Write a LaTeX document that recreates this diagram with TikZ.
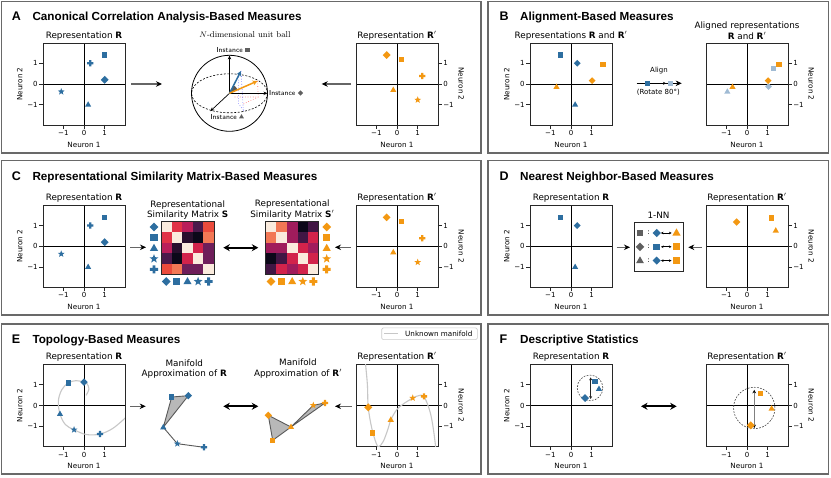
\documentclass[tikz,border=0pt]{standalone}
\usepackage{fontspec}
\newfontfamily\dv{DejaVu Sans}
\newfontfamily\hb{Liberation Sans}
\usetikzlibrary{arrows.meta}
\definecolor{cB}{RGB}{45,110,160}
\definecolor{cO}{RGB}{243,152,18}
\definecolor{cL}{RGB}{160,187,212}
\definecolor{cG}{RGB}{95,95,95}
\definecolor{axc}{RGB}{40,40,40}
\definecolor{pbc}{RGB}{105,105,105}
\definecolor{mA}{RGB}{250,235,221}
\definecolor{mR}{RGB}{225,50,70}
\definecolor{mC}{RGB}{185,30,90}
\definecolor{mP}{RGB}{75,25,75}
\definecolor{mE}{RGB}{235,75,60}
\definecolor{mV}{RGB}{40,15,45}
\definecolor{mK}{RGB}{12,8,25}
\definecolor{mS}{RGB}{242,120,85}
\definecolor{mD}{RGB}{210,35,75}
\definecolor{mU}{RGB}{110,30,90}
\definecolor{mM}{RGB}{160,28,92}
\definecolor{mQ}{RGB}{65,22,68}
\newcommand\MKsq{\fill (-2.7pt,-2.7pt) rectangle (2.7pt,2.7pt);}
\newcommand\MKdia{\fill (0pt,3.4pt) -- (3.4pt,0pt) -- (0pt,-3.4pt) -- (-3.4pt,0pt) -- cycle;}
\newcommand\MKtri{\fill (0pt,3.4pt) -- (3.1pt,-2pt) -- (-3.1pt,-2pt) -- cycle;}
\newcommand\MKstar{\fill (90:3.6pt) -- (126:1.5pt) -- (162:3.6pt) -- (198:1.5pt) -- (234:3.6pt) -- (270:1.5pt) -- (306:3.6pt) -- (342:1.5pt) -- (18:3.6pt) -- (54:1.5pt) -- cycle;}
\newcommand\MKplus{\fill (-1.15pt,-3.1pt) rectangle (1.15pt,3.1pt) (-3.1pt,-1.15pt) rectangle (3.1pt,1.15pt);}
\newcommand\Rp{\textbf{R}$'$}
\tikzset{
 pics/mk/.style={code={\csname MK#1\endcsname}},
 dat/.style={x=20.7pt,y=20.7pt},
 ticklab/.style={font=\dv\fontsize{7}{8}\selectfont, inner sep=0pt},
 axlab/.style={font=\dv\fontsize{7.2}{8}\selectfont, inner sep=0pt},
 subttl/.style={font=\dv\fontsize{8.8}{10}\selectfont, inner sep=0pt, align=center},
 inst/.style={font=\sffamily\fontsize{7.2}{8}\selectfont, inner sep=0pt},
 panelttl/.style={font=\hb\bfseries\fontsize{11.7}{13}\selectfont, inner sep=0pt, anchor=base west},
 panellet/.style={font=\hb\bfseries\fontsize{12.5}{14}\selectfont, inner sep=0pt, anchor=base west},
 panelbox/.style={draw=pbc, line width=1.1pt},
 arr/.style={draw=black!60, line width=1.1pt, -{Stealth[length=6pt,width=5.5pt,color=black]}},
 darr/.style={draw=black, line width=2pt, {Stealth[length=6.5pt,width=7pt]}-{Stealth[length=6.5pt,width=7pt]}},
 tarr/.style={draw=black, line width=0.6pt, {Stealth[length=2.5pt,width=2.6pt]}-{Stealth[length=2.5pt,width=2.6pt]}},
 sarr/.style={draw=black, line width=0.6pt, -{Stealth[length=3pt,width=3pt]}},
 alarr/.style={draw=black, line width=0.8pt, -{Stealth[length=6pt,width=5.5pt]}},
 sphax/.style={draw=black, line width=0.7pt, -{Stealth[length=4pt,width=3.4pt]}},
 mfc/.style={draw=black!22, line width=1.1pt},
 mat/.style={draw=axc, line width=0.7pt, minimum size=53pt, inner sep=0pt},
 edgegr/.style={draw=black!65, line width=0.9pt},
 fillgr/.style={fill=black!28},
 dcirc/.style={draw=black!70, line width=0.6pt, dash pattern=on 1.8pt off 1.3pt},
 vdarr/.style={draw=black!85, line width=0.8pt, {Stealth[length=3pt,width=3pt]}-{Stealth[length=3pt,width=3pt]}},
 vdarrg/.style={draw=black!50, line width=1.3pt, {Stealth[length=3.5pt,width=3.5pt,color=black]}-{Stealth[length=3.5pt,width=3.5pt,color=black]}},
}
\newcommand\mplot[7]{%
 \begin{scope}[shift={(#2,#3)},dat]
  \draw[black,line width=0.9pt] (-1.98,0) -- (1.98,0) (0,-1.98) -- (0,1.98);
  \node[draw=axc,line width=0.8pt,minimum size=82pt,inner sep=0pt] (#1) at (0,0) {};
  \foreach \t/\s in {-1/−1,0/0,1/1}{%
   \draw[axc,line width=0.6pt] (\t,-1.98) -- (\t,-2.15);
   \draw[axc,line width=0.6pt] (#4*1.98,\t) -- (#4*2.15,\t);
   \node[ticklab] (#1x\t) at (\t,-2.37) {\s};
   \node[ticklab,anchor=#5] (#1y\t) at (#4*2.23,\t) {\s};
  }
  \node[axlab] (#1xl) at (0,-2.92) {Neuron 1};
  \node[axlab,rotate=#7] (#1yl) at (#4*3.1,0) {Neuron 2};
  \node[subttl,anchor=south] (#1t) at (0,2.12) {#6};
 \end{scope}}
\newcommand\matcells[3]{%
 \foreach \row [count=\r from 0] in {#3}{%
  \foreach \c [count=\j from 0] in \row {%
   \fill[\c] ({#1+10.6*\j},{#2+10.6*\r}) rectangle ++(10.65,10.65);
  }}}
\begin{document}
\begin{tikzpicture}[x=1pt,y=-1pt]
\useasboundingbox (0,0) rectangle (831,478);
\fill[white] (0,0) rectangle (831,478);
% panel frames
\draw[panelbox] (1.5,1.5) rectangle (481,153);
\draw[panelbox] (488,1.5) rectangle (828.5,153);
\draw[panelbox] (1.5,160.5) rectangle (481,315);
\draw[panelbox] (488,160.5) rectangle (828.5,315);
\draw[panelbox] (1.5,324) rectangle (481,474);
\draw[panelbox] (488,324) rectangle (828.5,474);
% ================= A
\node[panellet] (LA) at (11.7,20.5) {A};
\node[panelttl] (TA) at (32.3,20.5) {Canonical Correlation Analysis-Based Measures};
\mplot{aR}{84}{84}{-1}{east}{Representation \textbf{R}}{90}
\begin{scope}[shift={(84,84)},dat]
 \pic[fill=cB] at (1,1.4) {mk=sq};
 \pic[fill=cB] at (0.3,1.0) {mk=plus};
 \pic[fill=cB,scale=1.15] at (1.0,0.2) {mk=dia};
 \pic[fill=cB] at (-1.1,-0.37) {mk=star};
 \pic[fill=cB] at (0.2,-1.0) {mk=tri};
\end{scope}
\mplot{aQ}{397}{84}{1}{west}{Representation \Rp}{-90}
\begin{scope}[shift={(397,84)},dat]
 \pic[fill=cO,scale=1.15] at (-0.5,1.4) {mk=dia};
 \pic[fill=cO] at (0.23,1.19) {mk=sq};
 \pic[fill=cO] at (1.22,0.39) {mk=plus};
 \pic[fill=cO] at (-0.18,-0.29) {mk=tri};
 \pic[fill=cO] at (1.0,-0.77) {mk=star};
\end{scope}
\coordinate (a1s) at (131,84); \coordinate (a1e) at (162,84);
\draw[arr] (a1s) -- (a1e);
\coordinate (a2s) at (351,84); \coordinate (a2e) at (321.7,84);
\draw[arr] (a2s) -- (a2e);
% sphere
\node[font=\rmfamily\fontsize{8.5}{10}\selectfont, inner sep=0pt] (ballt) at (245,34.3) {$N$-dimensional unit ball};
\coordinate (O) at (229.5,93.3);
\draw[line width=0.8pt] (O) circle[radius=38];
\draw[line width=0.6pt, dash pattern=on 2pt off 1.6pt] (O) ellipse[x radius=38,y radius=19.5];
\fill[black!65] (O) -- (233.5,85.3) -- (235.9,87.1) -- (237.5,89.6) -- cycle;
\draw[blue!70, line width=0.6pt, dotted] (241,71) -- (243.3,110) -- (238.6,104) -- (238.6,77);
\draw[red!60, line width=0.6pt, dotted] (257.5,81) -- (258.3,97) -- (234,97) (258.3,97) -- (243.3,104);
\coordinate (iU) at (229.5,55.5); \coordinate (iR) at (267.5,93.3); \coordinate (iD) at (210.3,111.2);
\draw[sphax] (O) -- (iU);
\draw[sphax] (O) -- (iR);
\draw[sphax] (O) -- (iD);
\coordinate (vB) at (241,71); \coordinate (vO) at (257.5,81);
\draw[cB,line width=1.5pt,-{Stealth[length=5pt,width=5pt]}] (O) -- (vB);
\draw[cO,line width=1.5pt,-{Stealth[length=5pt,width=5pt]}] (O) -- (vO);
\node[inst,anchor=east] (lU) at (243,50.5) {Instance};
\pic[fill=cG,scale=0.8] at (247.5,50) {mk=sq};
\node[inst,anchor=west] (lR) at (269,93.5) {Instance};
\pic[fill=cG,scale=0.8] at (300.5,93) {mk=dia};
\node[inst,anchor=east] (lD) at (237,117.3) {Instance};
\pic[fill=cG,scale=0.8] at (241.5,116.8) {mk=tri};
% ================= B
\node[panellet] (LB) at (499.5,20.5) {B};
\node[panelttl] (TB) at (520,20.5) {Alignment-Based Measures};
\mplot{bR}{571}{84}{-1}{east}{Representations \textbf{R} and \Rp}{90}
\begin{scope}[shift={(571,84)},dat]
 \pic[fill=cB] at (-0.5,1.4) {mk=sq};
 \pic[fill=cB] at (0.3,1.0) {mk=dia};
 \pic[fill=cB] at (0.2,-1.0) {mk=tri};
 \pic[fill=cO] at (1.55,0.93) {mk=sq};
 \pic[fill=cO] at (1.02,0.16) {mk=dia};
 \pic[fill=cO] at (-0.7,-0.14) {mk=tri};
\end{scope}
\node[ticklab] (alg) at (659,70.7) {Align};
\node[ticklab] (rot) at (658.3,92.5) {(Rotate 80°)};
\coordinate (al1) at (636.7,83.3); \coordinate (al2) at (681.7,83.3);
\draw[alarr] (al1) -- (al2);
\pic[fill=cB,scale=0.9] at (647.3,83.3) {mk=sq};
\coordinate (al3) at (651.5,83.3); \coordinate (al4) at (666,83.3);
\draw[sarr] (al3) -- (al4);
\pic[fill=cL,scale=0.9] at (670.5,83.3) {mk=sq};
\mplot{bA}{747}{84}{1}{west}{Aligned representations\\[1.5pt]\textbf{R} and \Rp}{-90}
\begin{scope}[shift={(747,84)},dat]
 \pic[fill=cL] at (1.29,0.74) {mk=sq};
 \pic[fill=cL] at (1.04,-0.12) {mk=dia};
 \pic[fill=cL] at (-0.95,-0.37) {mk=tri};
 \pic[fill=cO] at (1.55,0.93) {mk=sq};
 \pic[fill=cO] at (1.02,0.16) {mk=dia};
 \pic[fill=cO] at (-0.7,-0.14) {mk=tri};
\end{scope}
% ================= C
\node[panellet] (LC) at (11.7,180.5) {C};
\node[panelttl] (TC) at (32.3,180.5) {Representational Similarity Matrix-Based Measures};
\mplot{cR}{84}{246.3}{-1}{east}{Representation \textbf{R}}{90}
\begin{scope}[shift={(84,246.3)},dat]
 \pic[fill=cB] at (1,1.4) {mk=sq};
 \pic[fill=cB] at (0.3,1.0) {mk=plus};
 \pic[fill=cB,scale=1.15] at (1.0,0.2) {mk=dia};
 \pic[fill=cB] at (-1.1,-0.37) {mk=star};
 \pic[fill=cB] at (0.2,-1.0) {mk=tri};
\end{scope}
\coordinate (c1s) at (130,247.3); \coordinate (c1e) at (146,247.3);
\draw[arr] (c1s) -- (c1e);
\node[subttl] (cSt) at (187.7,209.8) {Representational\\Similarity Matrix \textbf{S}};
\matcells{161}{221.7}{{mA,mR,mC,mP,mE},{mR,mA,mV,mK,mS},{mC,mV,mA,mD,mU},{mP,mK,mD,mA,mU},{mE,mS,mU,mU,mA}}
\node[mat] (S) at (187.7,248.2) {};
\node[subttl] (cQt) at (292.3,209.6) {Representational\\[1pt]Similarity Matrix \textbf{S}$'$};
\matcells{265.7}{221.7}{{mA,mS,mM,mK,mQ},{mS,mA,mM,mQ,mD},{mM,mM,mA,mD,mM},{mK,mQ,mD,mA,mD},{mQ,mD,mM,mD,mA}}
\node[mat] (Sp) at (292.3,248.2) {};
\foreach \m [count=\i from 0] in {dia,sq,tri,star,plus}{
 \pic[fill=cB,scale=1.3] at (154,{227+10.6*\i}) {mk=\m};
 \pic[fill=cB,scale=1.3] at ({166.3+10.6*\i},281.5) {mk=\m};
 \pic[fill=cO,scale=1.3] at (326.7,{227+10.6*\i}) {mk=\m};
 \pic[fill=cO,scale=1.3] at ({271+10.6*\i},281.5) {mk=\m};
}
\coordinate (cd1) at (223.3,247.7); \coordinate (cd2) at (258.3,247.7);
\draw[darr] (cd1) -- (cd2);
\coordinate (c2s) at (351,247.3); \coordinate (c2e) at (335,247.3);
\draw[arr] (c2s) -- (c2e);
\mplot{cQ}{397}{246.3}{1}{west}{Representation \Rp}{-90}
\begin{scope}[shift={(397,246.3)},dat]
 \pic[fill=cO,scale=1.15] at (-0.5,1.4) {mk=dia};
 \pic[fill=cO] at (0.23,1.19) {mk=sq};
 \pic[fill=cO] at (1.22,0.39) {mk=plus};
 \pic[fill=cO] at (-0.18,-0.29) {mk=tri};
 \pic[fill=cO] at (1.0,-0.77) {mk=star};
\end{scope}
% ================= D
\node[panellet] (LD) at (499.5,180.5) {D};
\node[panelttl] (TD) at (520,180.5) {Nearest Neighbor-Based Measures};
\mplot{dR}{571}{246.3}{-1}{east}{Representation \textbf{R}}{90}
\begin{scope}[shift={(571,246.3)},dat]
 \pic[fill=cB] at (-0.5,1.4) {mk=sq};
 \pic[fill=cB] at (0.3,1.0) {mk=dia};
 \pic[fill=cB] at (0.2,-1.0) {mk=tri};
\end{scope}
\coordinate (d1s) at (616.7,247.3); \coordinate (d1e) at (630,247.3);
\draw[arr] (d1s) -- (d1e);
\node[subttl] (nnt) at (658.6,215.7) {1-NN};
\node[draw=axc,line width=0.8pt,minimum width=49.3pt,minimum height=48.3pt,inner sep=0pt] (nn) at (658.65,246.85) {};
\foreach \y/\g/\b/\o [count=\k] in {233/sq/dia/tri,246.8/dia/sq/sq,260.6/tri/dia/sq}{
 \pic[fill=cG,scale=1.25] at (640,\y) {mk=\g};
 \node[ticklab] (nc\k) at (648.5,\y) {:};
 \pic[fill=cB,scale=1.2] at (656.7,\y) {mk=\b};
 \coordinate (nl\k) at (661,\y); \coordinate (nr\k) at (671.5,\y);
 \draw[tarr] (nl\k) -- (nr\k);
 \pic[fill=cO,scale=1.35] at (676.5,\y) {mk=\o};
}
\coordinate (d2s) at (701.7,247.3); \coordinate (d2e) at (688.3,247.3);
\draw[arr] (d2s) -- (d2e);
\mplot{dQ}{747}{246.3}{1}{west}{Representation \Rp}{-90}
\begin{scope}[shift={(747,246.3)},dat]
 \pic[fill=cO,scale=1.1] at (-0.5,1.17) {mk=dia};
 \pic[fill=cO] at (1.19,1.36) {mk=sq};
 \pic[fill=cO] at (1.39,0.76) {mk=tri};
\end{scope}
% ================= E
\node[panellet] (LE) at (11.7,344) {E};
\node[panelttl] (TE) at (32.3,344) {Topology-Based Measures};
\node[draw=black!20,line width=0.6pt,rounded corners=1.5pt,minimum width=95.6pt,minimum height=11.7pt,inner sep=0pt] (leg) at (429.5,333.8) {};
\coordinate (lg1) at (384,333.5); \coordinate (lg2) at (398.3,333.5);
\draw[mfc] (lg1) -- (lg2);
\node[ticklab,font=\dv\fontsize{7.2}{8}\selectfont,anchor=west] (legt) at (405,333.5) {Unknown manifold};
\mplot{eR}{84}{405.5}{-1}{east}{Representation \textbf{R}}{90}
\begin{scope}[shift={(84,405.5)},dat]
 \begin{scope}
 \clip (-1.98,-1.98) rectangle (1.98,1.98);
 \draw[mfc] plot[smooth,tension=0.6] coordinates {(0.1,0.49) (0.24,0.8) (0.14,1.06) (0,1.13) (-0.38,1.2) (-0.76,1.09) (-1.08,0.75) (-1.24,0.2) (-1.16,-0.41) (-0.9,-0.92) (-0.48,-1.17) (0.1,-1.4) (0.77,-1.38) (1.4,-1.1) (2.05,-0.55)};
 \end{scope}
 \pic[fill=cB] at (-0.76,1.09) {mk=sq};
 \pic[fill=cB,scale=1.1] at (0,1.13) {mk=dia};
 \pic[fill=cB] at (-1.16,-0.41) {mk=tri};
 \pic[fill=cB] at (-0.48,-1.17) {mk=star};
 \pic[fill=cB] at (0.77,-1.38) {mk=plus};
\end{scope}
\coordinate (e1s) at (130,406.3); \coordinate (e1e) at (145.7,406.3);
\draw[arr] (e1s) -- (e1e);
\node[subttl] (mRt) at (184.3,368.7) {Manifold\\Approximation of \textbf{R}};
\coordinate (msq) at (171.7,397); \coordinate (mdia) at (188.3,395.7); \coordinate (mtri) at (163.3,427.3);
\coordinate (mstar) at (177.3,443.7); \coordinate (mplus) at (204,447.3);
\fill[fillgr] (msq) -- (mdia) -- (mtri) -- cycle;
\draw[edgegr] (msq) -- (mdia) -- (mtri) -- (msq) (mtri) -- (mstar) -- (mplus);
\pic[fill=cB] at (msq) {mk=sq};
\pic[fill=cB,scale=1.1] at (mdia) {mk=dia};
\pic[fill=cB] at (mtri) {mk=tri};
\pic[fill=cB] at (mstar) {mk=star};
\pic[fill=cB] at (mplus) {mk=plus};
\coordinate (ed1) at (223.3,406.3); \coordinate (ed2) at (258.3,406.3);
\draw[darr] (ed1) -- (ed2);
\node[subttl] (mQt) at (298,368.5) {Manifold\\[1pt]Approximation of \Rp};
\coordinate (ndia) at (268.3,415.3); \coordinate (nsq) at (272.7,440.3); \coordinate (ntri) at (291,427);
\coordinate (nstar) at (313.3,405.3); \coordinate (nplus) at (325,403);
\fill[fillgr] (ndia) -- (nsq) -- (ntri) -- cycle;
\fill[fillgr] (ntri) -- (nstar) -- (nplus) -- cycle;
\draw[edgegr] (ndia) -- (nsq) -- (ntri) -- (ndia) (ntri) -- (nstar) -- (nplus) -- (ntri);
\pic[fill=cO,scale=1.1] at (ndia) {mk=dia};
\pic[fill=cO] at (nsq) {mk=sq};
\pic[fill=cO] at (ntri) {mk=tri};
\pic[fill=cO] at (nstar) {mk=star};
\pic[fill=cO] at (nplus) {mk=plus};
\coordinate (e2s) at (351.7,406.3); \coordinate (e2e) at (335,406.3);
\draw[arr] (e2s) -- (e2e);
\mplot{eQ}{397}{405.5}{1}{west}{Representation \Rp}{-90}
\begin{scope}[shift={(397,405.5)},dat]
 \begin{scope}
 \clip (-1.98,-1.98) rectangle (1.98,1.98);
 \draw[mfc] plot[smooth,tension=0.55] coordinates {(-1.53,2.1) (-1.43,1.0) (-1.39,-0.09) (-1.22,-1.09) (-1.01,-1.81) (-0.88,-1.99) (-0.66,-1.73) (-0.42,-1.09) (-0.3,-0.69) (-0.01,-0.2) (0.3,0.07) (0.76,0.36) (1.03,0.47) (1.3,0.44) (1.59,-0.28) (1.75,-1.09) (1.88,-2.1)};
 \end{scope}
 \pic[fill=cO,scale=1.2] at (-1.39,-0.09) {mk=dia};
 \pic[fill=cO] at (-1.17,-1.33) {mk=sq};
 \pic[fill=cO] at (-0.3,-0.69) {mk=tri};
 \pic[fill=cO] at (0.76,0.36) {mk=star};
 \pic[fill=cO] at (1.3,0.44) {mk=plus};
\end{scope}
% ================= F
\node[panellet] (LF) at (499.5,344) {F};
\node[panelttl] (TF) at (520,344) {Descriptive Statistics};
\mplot{fR}{571}{405.5}{-1}{east}{Representation \textbf{R}}{90}
\begin{scope}[shift={(571,405.5)},dat]
 \draw[dcirc] (0.92,0.85) circle[radius=0.62];
 \coordinate (fa1) at (0.95,1.36); \coordinate (fa2) at (0.95,0.31);
 \draw[vdarr] (fa1) -- (fa2);
 \pic[fill=cB] at (1.16,1.17) {mk=sq};
 \pic[fill=cB] at (1.35,0.8) {mk=tri};
 \pic[fill=cB,scale=1.15] at (0.68,0.36) {mk=dia};
\end{scope}
\coordinate (fd1) at (641,406.3); \coordinate (fd2) at (676.7,406.3);
\draw[darr] (fd1) -- (fd2);
\mplot{fQ}{747}{405.5}{1}{west}{Representation \Rp}{-90}
\begin{scope}[shift={(747,405.5)},dat]
 \draw[dcirc] (0.35,-0.12) circle[radius=1.0];
 \coordinate (fb1) at (0.35,0.76); \coordinate (fb2) at (0.35,-1.09);
 \draw[vdarrg] (fb1) -- (fb2);
 \pic[fill=cO] at (0.66,0.57) {mk=sq};
 \pic[fill=cO] at (1.19,-0.15) {mk=tri};
 \pic[fill=cO,scale=1.15] at (0.18,-0.96) {mk=dia};
\end{scope}
\end{tikzpicture}
\end{document}
